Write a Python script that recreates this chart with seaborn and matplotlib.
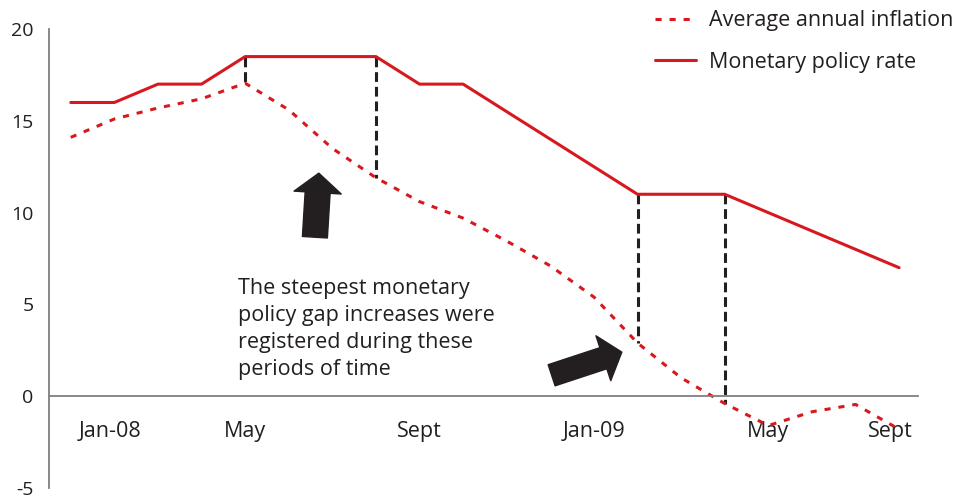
import numpy as np
import pandas as pd
import matplotlib
matplotlib.use("Agg")
import matplotlib.pyplot as plt
import seaborn as sns

# data (monthly, Jan-08 .. Aug-09)
months = ['Jan-08', 'Feb-08', 'Mar-08', 'Apr-08', 'May-08', 'Jun-08', 'Jul-08',
          'Aug-08', 'Sep-08', 'Oct-08', 'Nov-08', 'Dec-08', 'Jan-09', 'Feb-09',
          'Mar-09', 'Apr-09', 'May-09', 'Jun-09', 'Jul-09', 'Aug-09']
policy_rate = [16, 16, 17, 17, 18.5, 18.5, 18.5, 18.5, 17, 17, 15.5, 14,
               12.5, 11, 11, 11, 10, 9, 8, 7]
inflation = [14.1, 15.1, 15.7, 16.2, 17.05, 15.6, 13.5, 11.9, 10.6, 9.7, 8.45,
             7.1, 5.4, 2.9, 1.0, -0.4, -1.6, -0.85, -0.45, -1.8]
series_names = ['Average annual inflation', 'Monetary policy rate']
gap_months = ['May-08', 'Aug-08', 'Feb-09', 'Apr-09']
tick_labels = ['Jan-08', 'May', 'Sept', 'Jan-09', 'May', 'Sept']
note = "The steepest monetary\npolicy gap increases were\nregistered during these\nperiods of time"

df = pd.DataFrame({'month': months, 'policy': policy_rate, 'inflation': inflation})
df['t'] = np.arange(len(df))

sns.set_style("white")
plt.rcParams['font.family'] = ['Open Sans', 'DejaVu Sans']
plt.rcParams['axes.unicode_minus'] = False
ink = '#231f20'
red = '#d7191f'

fig = plt.figure(figsize=(9.58, 5.01), dpi=100)
ax = fig.add_axes([0.0511, 0.026, 0.907, 0.916])

sns.lineplot(data=df, x='t', y='inflation', ax=ax, color=red, lw=2.2,
             label=series_names[0])
ax.lines[-1].set_dashes((2.0, 2.6))
sns.lineplot(data=df, x='t', y='policy', ax=ax, color=red, lw=2.2,
             label=series_names[1])

# black dashed gaps between the two series
for m in gap_months:
    row = df[df['month'] == m].iloc[0]
    ax.plot([row['t'], row['t']], [row['policy'], row['inflation']],
            color=ink, lw=2.2, dashes=(3.2, 1.6), zorder=1)

# arrows
ax.annotate('', xy=(5.69, 12.15), xytext=(5.6, 8.66),
            arrowprops=dict(arrowstyle='simple,head_length=14,head_width=34,tail_width=18',
                            mutation_scale=1, color=ink, shrinkA=0, shrinkB=0))
ax.annotate('', xy=(12.64, 2.4), xytext=(11.03, 1.14),
            arrowprops=dict(arrowstyle='simple,head_length=14,head_width=34,tail_width=16',
                            mutation_scale=1, color=ink, shrinkA=0, shrinkB=0))

ax.text(3.83, 3.65, note, fontsize=15.5, color=ink, va='center', ha='left',
        linespacing=1.38)

ax.set_xlim(-0.5, 19.43)
ax.set_ylim(-5, 20)
ax.set_yticks([-5, 0, 5, 10, 15, 20])
ax.set_xticks([0.9, 4, 8, 12, 16, 18.8])
ax.set_xticklabels(tick_labels)
ax.set_xlabel('')
ax.set_ylabel('')

for s in ['top', 'right']:
    ax.spines[s].set_visible(False)
ax.spines['bottom'].set_position(('data', 0))
ax.spines['bottom'].set_color('#7f7f7f')
ax.spines['left'].set_color('#7f7f7f')
ax.spines['bottom'].set_linewidth(1.3)
ax.spines['left'].set_linewidth(1.3)
ax.tick_params(axis='both', length=0, colors=ink)
ax.tick_params(axis='y', pad=11, labelsize=14)
ax.tick_params(axis='x', pad=18, labelsize=15.5)

handles, labels = ax.get_legend_handles_labels()
ax.legend(handles, labels, loc='upper left', bbox_to_anchor=(0.664, 1.018),
          bbox_transform=fig.transFigure, frameon=False, fontsize=15.5,
          handlelength=1.9, handletextpad=0.6, labelspacing=0.95,
          labelcolor=ink)

fig.savefig('out.png', dpi=100)
